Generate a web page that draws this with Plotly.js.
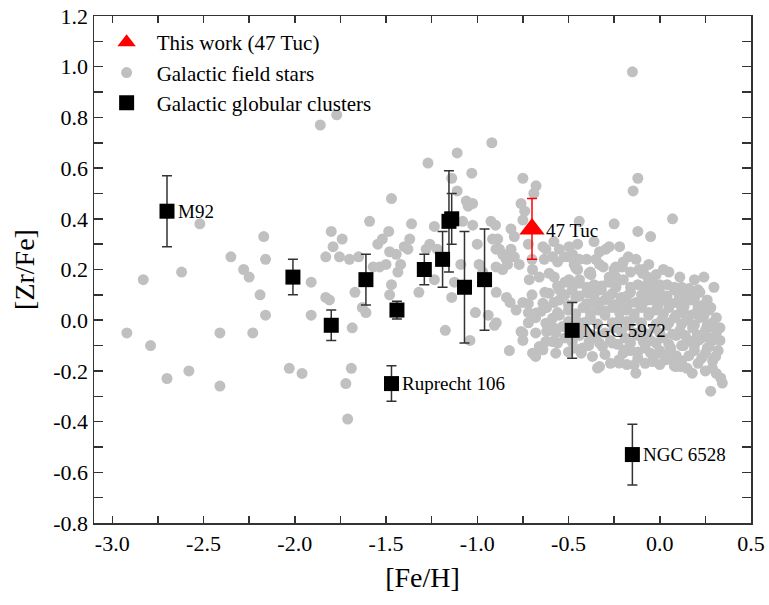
<!DOCTYPE html>
<html>
<head>
<meta charset="utf-8">
<script src="https://cdn.plot.ly/plotly-3.0.1.min.js"></script>
<style>html,body{margin:0;padding:0;background:#fff}#chart{width:769px;height:605px}</style>
</head>
<body>
<div id="chart"></div>
<script>
// 47 Tuc (this work)
const tucFeH = [-0.70];
const tucZrFe = [0.36];
const tucErr = [0.12];
const tucLabel = ["47 Tuc"];

// Galactic globular clusters
const gcFeH  = [-2.70, -2.01, -1.80, -1.61, -1.44, -1.29, -1.19, -1.155, -1.14, -1.07, -0.96, -1.47, -0.48, -0.15];
const gcZrFe = [ 0.43,  0.17, -0.02,  0.16,  0.04,  0.20,  0.24,  0.39,  0.40,  0.13,  0.16, -0.25, -0.04, -0.53];
const gcErr  = [ 0.14,  0.07,  0.06,  0.10,  0.035, 0.06,  0.11,  0.20,  0.10,  0.22,  0.20,  0.07,  0.11,  0.12];
const gcLabel = ["M92", "", "", "", "", "", "", "", "", "", "", "Ruprecht 106", "NGC 5972", "NGC 6528"];

// Galactic field stars
const fieldFeH = [
-2.92,-2.83,-2.79,-2.70,-2.62,-2.58,-2.52,-2.41,-2.41,-2.35,-2.28,-2.25,-2.23,-2.19,-2.17,-2.16,-2.16,-2.03,-1.96,-1.91,-1.91,-1.83,-1.81,-1.83,-1.79,-1.80,-1.86,-1.77,-1.755,-1.74,-1.70,-1.65,-1.69,-1.72,-1.71,-1.685,-1.61,-1.63,-1.67,
-1.59,-1.57,-1.535,-1.50,-1.485,-1.52,-1.545,-1.48,-1.444,-1.42,-1.435,-1.47,-1.48,-1.47,-1.36,-1.37,-1.40,-1.38,-1.32,-1.27,-1.26,-1.28,-1.235,-1.22,-1.235,-1.175,-1.14,-1.11,-1.11,-1.125,-1.14,-1.09,-1.08,-1.06,-1.05,-1.04,-1.03,-1.025,-1.025,-1.00,-0.99,-0.97,-1.01,-0.94,
-0.92,-0.925,-0.90,-0.906,-0.916,-0.888,-0.897,-0.879,-0.861,-0.897,-0.834,-0.842,-0.861,-0.824,-0.815,-0.797,-0.815,-0.797,-0.77,-0.896,-0.84,-0.82,-0.75,-0.787,-0.896,-0.76,-0.75,-0.824,-0.75,-0.678,-0.69,-0.76,-0.74,-0.75,
-0.64,-0.624,-0.587,-0.55,-0.497,-0.478,-0.441,-0.441,-0.523,-0.469,-0.46,-0.387,-0.35,-0.277,-0.33,-0.295,-0.25,-0.241,-0.241,-0.223,-0.25,-0.172,-0.205,-0.12,-0.146,-0.15,0.07,-0.12,-0.05,-0.113,-0.095,-0.067,-0.04,0.242,0.297,
-0.377,-0.277,-0.633,-0.578,-0.715,-0.66,-0.697,-0.606,-0.497,-0.441,-0.387,-0.33,-0.277,-0.223,-0.678,-0.64,-0.606,-0.55,-0.624,-0.587,-0.533,-0.57,-0.697,-0.66,-0.624,-0.587,-0.68,-0.64,-0.75,-0.387,-0.35,-0.314,-0.259,-0.223,-0.186,-0.33,-0.341,-0.369,-0.423,-0.387,
-0.223,-0.131,-0.14,-0.04,0.033,0.087,0.115,0.178,0.288,0.334,0.343,0.279,0.27,0.306,0.242,0.279,0.206,0.215,-0.05,-0.014,-0.04,0.106,0.124,0.133,0.142,
-0.52,-0.44,-0.36,-0.28,-0.20,-0.12,-0.04,0.04,0.12,
-0.48,-0.40,-0.32,-0.24,-0.16,-0.08,0.00,0.08,0.16,0.22,
-0.55,-0.46,-0.36,-0.30,-0.21,-0.13,-0.06,0.02,0.09,0.17,0.24,
-0.62,-0.50,-0.42,-0.34,-0.26,-0.18,-0.10,-0.02,0.05,0.12,0.20,0.27,
-0.68,-0.55,-0.46,-0.38,-0.30,-0.22,-0.14,-0.06,0.01,0.08,0.15,0.22,0.29,
-0.58,-0.49,-0.42,-0.25,-0.17,-0.10,-0.03,0.04,0.11,0.18,0.25,0.31,
-0.52,-0.44,-0.27,-0.19,-0.12,-0.05,0.02,0.09,0.16,0.23,0.29,
-0.47,-0.39,-0.16,-0.08,0.00,0.06,0.13,0.19,0.25,
-0.12,-0.03,0.05,0.12,0.21,
-0.70,-0.56,-0.50,-0.40,-0.33,-0.20,-0.13,-0.06,0.02,
-0.72,-0.58,-0.45,-0.36,-0.22,
-0.45,-0.38,-0.31,-0.16,-0.09,-0.02,0.05,0.11,0.19,
-0.56,-0.48,-0.40,-0.32,-0.24,-0.16,-0.08,0.00,0.08,0.16,0.21,
-0.70,-0.63,-0.52,-0.44,-0.36,-0.26,-0.18,-0.10,0.04,0.12,0.19,0.26,
-0.72,-0.58,-0.50,-0.40,-0.33,-0.25,-0.17,-0.09,-0.01,0.06,0.13,0.21,0.28,
-0.72,-0.65,-0.56,-0.46,-0.38,-0.30,-0.22,-0.14,-0.06,0.02,0.09,0.17,0.24,0.31,
-0.72,-0.50,-0.42,-0.34,-0.26,-0.18,-0.10,-0.02,0.05,0.12,0.19,0.26,0.33,
-0.68,-0.62,-0.45,-0.38,-0.30,-0.21,-0.14,-0.07,0.00,0.07,0.14,0.21,0.27,0.33,
-0.56,-0.48,-0.33,-0.23,-0.16,-0.09,-0.02,0.05,0.12,0.19,0.26,0.32,
-0.57,-0.50,-0.43,-0.30,-0.20,-0.12,-0.05,0.02,0.09,0.16,0.23,0.29,
-0.27,-0.18,-0.08,0.00,0.08,0.15,0.25,0.31
];
const fieldZrFe = [
-0.05,0.16,-0.10,-0.23,0.19,-0.20,0.38,-0.05,-0.26,0.25,0.20,0.17,-0.05,0.10,0.33,0.24,0.02,-0.19,-0.21,0.15,0.02,0.09,0.08,0.25,0.29,0.35,0.77,0.81,0.25,0.32,0.24,0.25,-0.19,-0.25,-0.39,-0.03,0.03,0.05,0.11,
0.39,0.21,0.21,0.22,0.35,0.32,0.30,0.27,0.26,0.22,0.19,0.14,0.10,0.48,0.38,0.32,0.29,0.28,0.11,0.62,0.30,0.28,0.37,0.28,0.16,-0.04,0.56,0.66,0.51,0.15,0.09,0.22,0.39,0.47,0.45,-0.08,0.58,0.46,0.375,0.30,0.22,0.19,0.03,0.02,
0.70,0.39,0.375,-0.02,0.32,0.32,0.28,0.28,0.26,0.21,0.22,0.24,0.20,0.26,0.36,0.33,0.28,0.25,0.22,0.11,0.09,0.07,0.07,0.04,-0.01,-0.045,-0.08,-0.12,0.56,0.53,0.50,0.46,0.43,0.395,
0.29,0.28,0.25,0.28,0.29,0.26,0.24,0.39,0.25,0.22,0.205,0.185,0.24,0.29,0.27,0.28,0.38,0.21,0.17,0.21,0.20,0.25,0.21,0.56,0.51,0.98,0.40,0.35,0.33,0.20,0.185,0.17,0.14,0.17,0.13,
0.18,0.17,0.24,0.17,0.16,0.17,0.20,0.185,0.16,0.146,0.106,0.12,0.093,0.067,0.028,0.067,0.106,0.12,-0.012,0.008,-0.025,-0.05,-0.13,-0.104,-0.084,-0.084,-0.143,-0.117,-0.05,0.001,-0.065,-0.104,-0.09,-0.156,-0.117,-0.183,-0.189,-0.143,-0.11,-0.084,
-0.169,-0.209,-0.176,-0.163,-0.156,-0.183,-0.183,-0.209,-0.189,-0.228,-0.248,-0.28,-0.104,-0.143,0.021,-0.025,-0.058,-0.078,0.113,0.10,0.08,0.10,0.073,0.054,0.021,
0.15,0.16,0.14,0.15,0.16,0.14,0.15,0.14,0.13,
0.12,0.11,0.12,0.13,0.11,0.12,0.11,0.12,0.10,0.11,
0.08,0.09,0.07,0.08,0.09,0.07,0.08,0.08,0.07,0.08,0.06,
0.05,0.04,0.05,0.04,0.05,0.04,0.05,0.04,0.05,0.04,0.03,0.04,
0.01,0.02,0.00,0.01,0.02,0.00,0.01,0.02,0.00,0.01,0.00,0.01,-0.01,
-0.03,-0.02,-0.04,-0.03,-0.02,-0.04,-0.03,-0.02,-0.04,-0.03,-0.04,-0.05,
-0.07,-0.06,-0.08,-0.07,-0.06,-0.08,-0.07,-0.06,-0.08,-0.07,-0.08,
-0.11,-0.10,-0.12,-0.11,-0.12,-0.11,-0.10,-0.12,-0.13,
-0.15,-0.14,-0.15,-0.16,-0.17,
0.24,0.23,0.25,0.24,0.22,0.23,0.24,0.22,0.20,
0.30,0.31,0.30,0.31,0.29,
0.20,0.19,0.21,0.19,0.20,0.18,0.19,0.17,0.16,
0.135,0.14,0.13,0.135,0.14,0.13,0.135,0.14,0.13,0.125,0.12,
0.10,0.11,0.10,0.095,0.10,0.105,0.095,0.10,0.095,0.09,0.085,0.08,
0.065,0.07,0.06,0.065,0.07,0.06,0.065,0.07,0.06,0.065,0.06,0.055,0.05,
0.03,0.035,0.03,0.025,0.03,0.035,0.03,0.025,0.03,0.025,0.02,0.02,0.015,0.01,
-0.01,-0.005,-0.01,-0.015,-0.01,-0.005,-0.01,-0.015,-0.01,-0.015,-0.02,-0.02,-0.03,
-0.05,-0.045,-0.05,-0.055,-0.05,-0.045,-0.05,-0.055,-0.05,-0.055,-0.06,-0.06,-0.07,-0.08,
-0.09,-0.085,-0.09,-0.095,-0.09,-0.085,-0.09,-0.095,-0.10,-0.10,-0.11,-0.12,
-0.13,-0.125,-0.13,-0.135,-0.13,-0.125,-0.13,-0.135,-0.14,-0.14,-0.15,-0.16,
-0.17,-0.175,-0.17,-0.175,-0.18,-0.19,-0.20,-0.21
];

// Tick positions and labels (blank labels mark the unlabeled intermediate ticks)
const xTickVals = [-3.0,-2.75,-2.5,-2.25,-2.0,-1.75,-1.5,-1.25,-1.0,-0.75,-0.5,-0.25,0.0,0.25,0.5];
const xTickText = ["-3.0","","-2.5","","-2.0","","-1.5","","-1.0","","-0.5","","0.0","","0.5"];
const yTickVals = [-0.8,-0.7,-0.6,-0.5,-0.4,-0.3,-0.2,-0.1,0.0,0.1,0.2,0.3,0.4,0.5,0.6,0.7,0.8,0.9,1.0,1.1,1.2];
const yTickText = ["-0.8","","-0.6","","-0.4","","-0.2","","0.0","","0.2","","0.4","","0.6","","0.8","","1.0","","1.2"];

const FONT = "Times New Roman, Liberation Serif, serif";

const traces = [
  {
    type: "scatter", mode: "markers", name: "Galactic field stars",
    x: fieldFeH, y: fieldZrFe, legendrank: 2,
    marker: {color: "#c0c0c0", size: 11, symbol: "circle"},
    hoverinfo: "skip"
  },
  {
    type: "scatter", mode: "markers", name: "Galactic globular clusters",
    x: gcFeH, y: gcZrFe, legendrank: 3,
    error_y: {type: "data", array: gcErr, visible: true, color: "#333333", thickness: 1.5, width: 5},
    marker: {color: "#000000", size: 15, symbol: "square"}
  },
  {
    type: "scatter", mode: "markers", name: "This work (47 Tuc)",
    x: tucFeH, y: tucZrFe, legendrank: 1,
    error_y: {type: "data", array: tucErr, visible: true, color: "#ff0000", thickness: 1.5, width: 5},
    marker: {color: "#ff0000", size: 22, symbol: "triangle-up"}
  }
];

const annotations = [];
gcLabel.forEach((t, i) => {
  if (t) annotations.push({x: gcFeH[i], y: gcZrFe[i], text: t, showarrow: false, xanchor: "left", yanchor: "middle", xshift: 9, font: {family: FONT, size: 19, color: "#000"}});
});
tucLabel.forEach((t, i) => {
  annotations.push({x: tucFeH[i], y: tucZrFe[i], text: t, showarrow: false, xanchor: "left", yanchor: "middle", xshift: 12, yshift: -2, font: {family: FONT, size: 19, color: "#000"}});
});

const layout = {
  width: 769, height: 605,
  font: {family: FONT, size: 22, color: "#000"},
  margin: {l: 94, r: 18, t: 16, b: 82},
  paper_bgcolor: "#fff", plot_bgcolor: "#fff",
  showlegend: true,
  legend: {x: 0.004, y: 0.988, xanchor: "left", yanchor: "top", bgcolor: "rgba(0,0,0,0)", itemwidth: 50, font: {family: FONT, size: 21, color: "#000"}, tracegroupgap: 0},
  xaxis: {
    showline: true, mirror: "ticks", linecolor: "#333", linewidth: 1.5,
    ticks: "inside", ticklen: 7, tickwidth: 1.5, tickcolor: "#333",
    showgrid: false, zeroline: false,
    tickfont: {family: FONT, size: 22, color: "#000"},
    range: [-3.1, 0.5], tickmode: "array", tickvals: xTickVals, ticktext: xTickText,
    title: {text: "[Fe/H]", font: {family: FONT, size: 28, color: "#000"}, standoff: 12}
  },
  yaxis: {
    showline: true, mirror: "ticks", linecolor: "#333", linewidth: 1.5,
    ticks: "inside", ticklen: 9, tickwidth: 1.5, tickcolor: "#333",
    showgrid: false, zeroline: false,
    tickfont: {family: FONT, size: 22, color: "#000"},
    range: [-0.8, 1.2], tickmode: "array", tickvals: yTickVals, ticktext: yTickText,
    title: {text: "[Zr/Fe]", font: {family: FONT, size: 28, color: "#000"}, standoff: 10}
  },
  annotations: annotations
};

Plotly.newPlot("chart", traces, layout, {staticPlot: true, displayModeBar: false});
</script>
</body>
</html>
